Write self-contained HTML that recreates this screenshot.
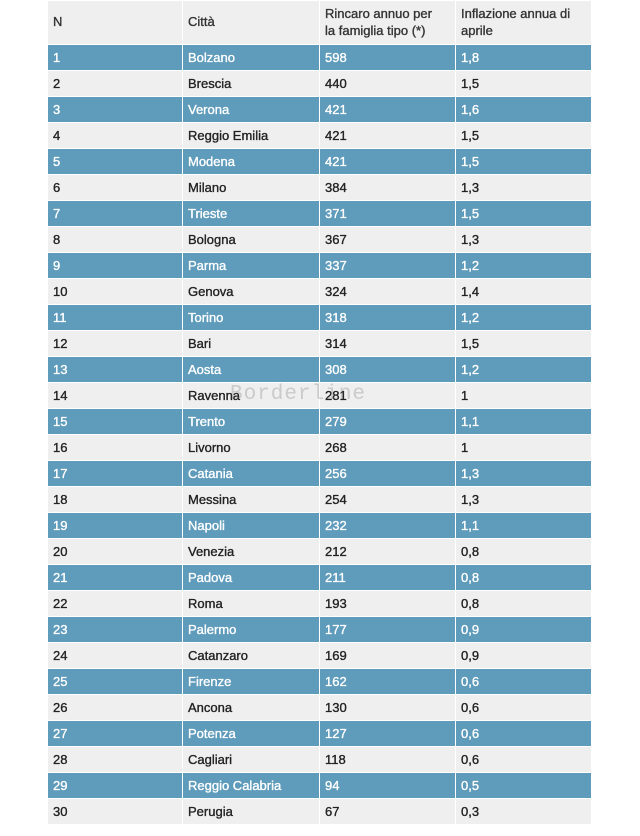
<!DOCTYPE html>
<html><head><meta charset="utf-8"><style>
html,body{margin:0;padding:0;background:#fff;width:640px;height:836px;overflow:hidden}
table{position:absolute;left:47px;top:0;border-collapse:collapse;font-family:"Liberation Sans",sans-serif;font-size:13px;table-layout:fixed}
td{border:1px solid #fff;padding:0 0 0 5px;height:24px;box-sizing:border-box;color:#222;background:#efefef;white-space:nowrap;overflow:hidden;-webkit-text-stroke:0.35px currentColor}
tr{height:26px}
tr.h td{height:44px;vertical-align:top;padding-top:4px;line-height:17px;white-space:nowrap;color:#333}
tr.b td{background:#5f9bbb;color:#fff}
.wm{position:absolute;left:230px;top:383px;font-family:"Liberation Mono",monospace;font-size:21px;color:rgba(120,120,120,0.3);letter-spacing:1px}
</style></head><body>
<table>
<colgroup><col style="width:135px"><col style="width:137px"><col style="width:136px"><col style="width:136px"></colgroup>
<tr class="h"><td style="padding-top:12px">N</td><td style="padding-top:12px">Città</td><td>Rincaro annuo per<br>la famiglia tipo (*)</td><td>Inflazione annua di<br>aprile</td></tr>
<tr class="b"><td>1</td><td>Bolzano</td><td>598</td><td>1,8</td></tr>
<tr><td>2</td><td>Brescia</td><td>440</td><td>1,5</td></tr>
<tr class="b"><td>3</td><td>Verona</td><td>421</td><td>1,6</td></tr>
<tr><td>4</td><td>Reggio Emilia</td><td>421</td><td>1,5</td></tr>
<tr class="b"><td>5</td><td>Modena</td><td>421</td><td>1,5</td></tr>
<tr><td>6</td><td>Milano</td><td>384</td><td>1,3</td></tr>
<tr class="b"><td>7</td><td>Trieste</td><td>371</td><td>1,5</td></tr>
<tr><td>8</td><td>Bologna</td><td>367</td><td>1,3</td></tr>
<tr class="b"><td>9</td><td>Parma</td><td>337</td><td>1,2</td></tr>
<tr><td>10</td><td>Genova</td><td>324</td><td>1,4</td></tr>
<tr class="b"><td>11</td><td>Torino</td><td>318</td><td>1,2</td></tr>
<tr><td>12</td><td>Bari</td><td>314</td><td>1,5</td></tr>
<tr class="b"><td>13</td><td>Aosta</td><td>308</td><td>1,2</td></tr>
<tr><td>14</td><td>Ravenna</td><td>281</td><td>1</td></tr>
<tr class="b"><td>15</td><td>Trento</td><td>279</td><td>1,1</td></tr>
<tr><td>16</td><td>Livorno</td><td>268</td><td>1</td></tr>
<tr class="b"><td>17</td><td>Catania</td><td>256</td><td>1,3</td></tr>
<tr><td>18</td><td>Messina</td><td>254</td><td>1,3</td></tr>
<tr class="b"><td>19</td><td>Napoli</td><td>232</td><td>1,1</td></tr>
<tr><td>20</td><td>Venezia</td><td>212</td><td>0,8</td></tr>
<tr class="b"><td>21</td><td>Padova</td><td>211</td><td>0,8</td></tr>
<tr><td>22</td><td>Roma</td><td>193</td><td>0,8</td></tr>
<tr class="b"><td>23</td><td>Palermo</td><td>177</td><td>0,9</td></tr>
<tr><td>24</td><td>Catanzaro</td><td>169</td><td>0,9</td></tr>
<tr class="b"><td>25</td><td>Firenze</td><td>162</td><td>0,6</td></tr>
<tr><td>26</td><td>Ancona</td><td>130</td><td>0,6</td></tr>
<tr class="b"><td>27</td><td>Potenza</td><td>127</td><td>0,6</td></tr>
<tr><td>28</td><td>Cagliari</td><td>118</td><td>0,6</td></tr>
<tr class="b"><td>29</td><td>Reggio Calabria</td><td>94</td><td>0,5</td></tr>
<tr><td>30</td><td>Perugia</td><td>67</td><td>0,3</td></tr>
</table>
<div class="wm">Borderline</div>
</body></html>
